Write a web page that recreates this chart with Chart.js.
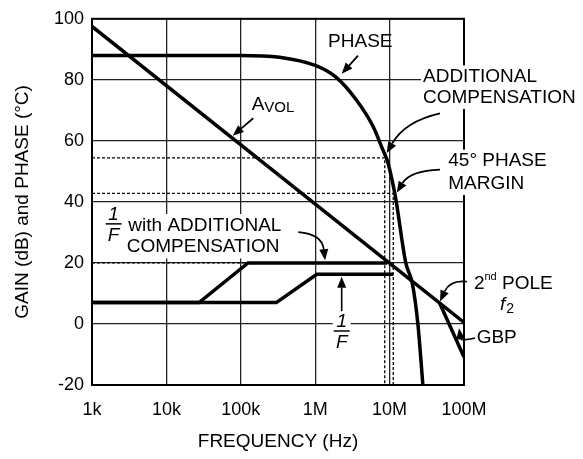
<!DOCTYPE html>
<html>
<head>
<meta charset="utf-8">
<script src="https://cdn.jsdelivr.net/npm/chart.js@4.4.0/dist/chart.umd.min.js"></script>
<style>
  html, body { margin: 0; padding: 0; background: #fff; }
  #wrap { width: 583px; height: 459px; }
</style>
</head>
<body>
<div id="wrap"><canvas id="bode" width="583" height="459"></canvas></div>
<script>
const FONT = '"Liberation Sans", Arial, Helvetica, sans-serif';
const TXT = 19; // annotation text size

// frequency decades (Hz) and their labels
const decadeTicks = [1e3, 1e4, 1e5, 1e6, 1e7, 1e8];
const decadeLabels = ['1k', '10k', '100k', '1M', '10M', '100M'];

// open loop gain, single pole line carried on to the GBP
const avolFreq = [1e3, 1e8];
const avolGain = [97.5, 0.5];

// open loop gain after the 2nd pole
const poleFreq = [4.7e7, 1e8];
const poleGain = [6.9, -10.8];

// phase curve
const phaseFreq = [1e3, 1e5, 3.3e5, 1e6, 1.9e6, 3.6e6, 6e6, 8.1e6, 9.5e6, 1.17e7, 1.23e7, 1.65e7, 2.02e7, 2.4e7, 2.8e7];
const phaseDeg = [88, 88, 87.4, 84.7, 80.9, 73.3, 64.7, 57.1, 52.8, 43, 40, 20, 13.3, 0, -20];

// 1/F with additional compensation
const invFCompFreq = [1e3, 2.75e4, 1.25e5, 9.3e6];
const invFCompGain = [7, 7, 20, 20];

// 1/F
const invFFreq = [1e3, 3e5, 1.05e6, 1.12e7];
const invFGain = [7, 7, 16.3, 16.3];

// dotted guide lines
const guide20Freq = [1e3, 1.25e5];
const guide20Gain = [20, 20];
const guideCompFreq = [1e3, 8.6e6, 8.6e6];
const guideCompGain = [54.4, 54.4, -20];
const guideMarginFreq = [1e3, 1.12e7, 1.12e7];
const guideMarginGain = [42.8, 42.8, -20];

const pts = (xs, ys) => xs.map((f, i) => ({ x: f, y: ys[i] }));

function solid(data, extra) {
  return Object.assign({
    data: data,
    borderColor: '#000',
    borderWidth: 3.5,
    pointRadius: 0,
    fill: false,
    tension: 0
  }, extra || {});
}

function dotted(data) {
  return {
    data: data,
    borderColor: '#000',
    borderWidth: 1.3,
    borderDash: [3, 2],
    pointRadius: 0,
    fill: false
  };
}

// text with optional white box behind it
function label(ctx, text, p, size, opts) {
  opts = opts || {};
  ctx.font = (opts.italic ? 'italic ' : '') + size + 'px ' + FONT;
  ctx.textBaseline = opts.baseline || 'middle';
  ctx.textAlign = opts.align || 'left';
  const w = ctx.measureText(text).width;
  if (opts.bg) {
    const x0 = opts.align === 'center' ? p[0] - w / 2 : p[0];
    ctx.fillStyle = '#fff';
    ctx.fillRect(x0 - 2, p[1] - size * 0.6, w + 4, size * 1.2);
  }
  ctx.fillStyle = '#000';
  ctx.fillText(text, p[0], p[1]);
  return w;
}

function arrow(ctx, from, ctrl, to, lw) {
  const c = ctrl || from;
  const ang = Math.atan2(to[1] - c[1], to[0] - c[0]);
  const len = 11, half = 4.5;
  const bx = to[0] - len * Math.cos(ang), by = to[1] - len * Math.sin(ang);
  ctx.strokeStyle = '#000';
  ctx.fillStyle = '#000';
  ctx.lineWidth = lw;
  ctx.beginPath();
  ctx.moveTo(from[0], from[1]);
  if (ctrl) ctx.quadraticCurveTo(c[0], c[1], bx, by);
  else ctx.lineTo(bx, by);
  ctx.stroke();
  ctx.beginPath();
  ctx.moveTo(to[0], to[1]);
  ctx.lineTo(bx + half * Math.sin(ang), by - half * Math.cos(ang));
  ctx.lineTo(bx - half * Math.sin(ang), by + half * Math.cos(ang));
  ctx.closePath();
  ctx.fill();
}

function fraction(ctx, p1, pBar, pF, bg) {
  if (bg) {
    ctx.fillStyle = '#fff';
    ctx.fillRect(p1[0] - 9, p1[1] - 10, 18, pF[1] - p1[1] + 20);
  }
  label(ctx, '1', p1, TXT, { italic: true, align: 'center' });
  ctx.strokeStyle = '#000';
  ctx.lineWidth = 1.5;
  ctx.beginPath();
  ctx.moveTo(pBar[0] - 8, pBar[1]);
  ctx.lineTo(pBar[0] + 8, pBar[1]);
  ctx.stroke();
  label(ctx, 'F', pF, TXT, { italic: true, align: 'center' });
}

const annotate = {
  id: 'annotate',
  afterDraw(chart) {
    const { ctx, chartArea: a, scales: { x, y } } = chart;
    const at = (f, v) => [x.getPixelForValue(f), y.getPixelForValue(v)];
    ctx.save();

    // plot frame
    ctx.strokeStyle = '#000';
    ctx.lineWidth = 2;
    ctx.strokeRect(a.left, a.top, a.right - a.left, a.bottom - a.top);

    // PHASE
    label(ctx, 'PHASE', at(1.49e6, 92.4), TXT);
    arrow(ctx, at(3.76e6, 87.9), null, at(2.27e6, 82.0), 1.8);

    // ADDITIONAL COMPENSATION
    label(ctx, 'ADDITIONAL', at(2.81e7, 81.0), TXT, { bg: true });
    label(ctx, 'COMPENSATION', at(2.81e7, 74.2), TXT, { bg: true });
    arrow(ctx, at(4.76e7, 69.0), at(1.61e7, 66.4), at(9.14e6, 56.0), 1.8);

    // 45° PHASE MARGIN
    label(ctx, '45° PHASE', at(6.15e7, 53.4), TXT, { bg: true });
    label(ctx, 'MARGIN', at(6.15e7, 46.0), TXT, { bg: true });
    arrow(ctx, at(4.76e7, 50.6), at(1.88e7, 50.2), at(1.25e7, 43.1), 1.8);

    // AVOL
    const pA = at(1.40e5, 70.1);
    const wA = label(ctx, 'A', pA, TXT, { baseline: 'alphabetic' });
    const pV = at(1.40e5, 69.3);
    label(ctx, 'VOL', [pA[0] + wA, pV[1]], 15, { baseline: 'alphabetic' });
    arrow(ctx, at(1.47e5, 67.4), null, at(7.78e4, 61.7), 1.8);

    // 1/F with ADDITIONAL COMPENSATION
    fraction(ctx, at(1.95e3, 35.9), at(1.95e3, 32.8), at(1.95e3, 28.8), true);
    label(ctx, 'with ADDITIONAL', at(3.08e3, 32.3), TXT, { bg: true });
    label(ctx, 'COMPENSATION', at(2.93e3, 25.2), TXT, { bg: true });
    arrow(ctx, at(5.93e5, 30.1), at(1.23e6, 29.5), at(1.36e6, 20.9), 1.8);

    // 1/F
    arrow(ctx, at(2.27e6, 4.2), null, at(2.27e6, 15.5), 1.6);
    fraction(ctx, at(2.27e6, 0.6), at(2.27e6, -2.3), at(2.27e6, -6.2), true);

    // 2nd POLE f2
    const p2 = at(1.36e8, 13.3);
    let w = label(ctx, '2', p2, TXT);
    w += label(ctx, 'nd', [p2[0] + w, p2[1] - 6], 11);
    label(ctx, ' POLE', [p2[0] + w, p2[1]], TXT);
    const pf = at(3.05e8, 6.4);
    const wf = label(ctx, 'f', pf, TXT, { italic: true });
    label(ctx, '2', [pf[0] + wf + 1, pf[1] + 5], 14);
    arrow(ctx, at(1.09e8, 13.9), at(6.48e7, 14.5), at(4.76e7, 7.4), 1.8);

    // GBP
    label(ctx, 'GBP', at(1.48e8, -4.5), TXT);
    arrow(ctx, at(1.41e8, -4.6), at(9.12e7, -5.6), at(8.57e7, -1.4), 1.5);

    ctx.restore();
  }
};

new Chart(document.getElementById('bode'), {
  type: 'line',
  data: {
    datasets: [
      dotted(pts(guide20Freq, guide20Gain)),
      dotted(pts(guideCompFreq, guideCompGain)),
      dotted(pts(guideMarginFreq, guideMarginGain)),
      solid(pts(avolFreq, avolGain)),
      solid(pts(poleFreq, poleGain)),
      solid(pts(phaseFreq, phaseDeg), { cubicInterpolationMode: 'monotone' }),
      solid(pts(invFCompFreq, invFCompGain)),
      solid(pts(invFFreq, invFGain))
    ]
  },
  options: {
    responsive: false,
    animation: false,
    devicePixelRatio: 1,
    layout: { padding: { top: 14, right: 119, left: 0, bottom: 0 } },
    plugins: { legend: { display: false }, tooltip: { enabled: false } },
    scales: {
      x: {
        type: 'logarithmic',
        min: 1e3,
        max: 1e8,
        afterBuildTicks: (scale) => {
          scale.ticks = decadeTicks.map(v => ({ value: v }));
        },
        afterFit: (scale) => { scale.height = 74; },
        ticks: {
          autoSkip: false,
          maxRotation: 0,
          padding: 14,
          color: '#000',
          font: { family: FONT, size: 18 },
          callback: (v) => decadeLabels[decadeTicks.indexOf(v)]
        },
        grid: { color: '#222', lineWidth: 1.3, drawTicks: false },
        border: { color: '#000', width: 2 },
        title: {
          display: true,
          text: 'FREQUENCY (Hz)',
          color: '#000',
          font: { family: FONT, size: 19 },
          padding: { top: 0, bottom: 6 }
        }
      },
      y: {
        min: -20,
        max: 100,
        afterFit: (scale) => { scale.width = 92; },
        ticks: {
          stepSize: 20,
          padding: 8,
          color: '#000',
          font: { family: FONT, size: 18 }
        },
        grid: { color: '#222', lineWidth: 1.3, drawTicks: false },
        border: { color: '#000', width: 2 },
        title: {
          display: true,
          text: 'GAIN (dB) and PHASE (°C)',
          color: '#000',
          font: { family: FONT, size: 19 },
          padding: { top: 11, bottom: 0 }
        }
      }
    }
  },
  plugins: [annotate]
});
</script>
</body>
</html>
